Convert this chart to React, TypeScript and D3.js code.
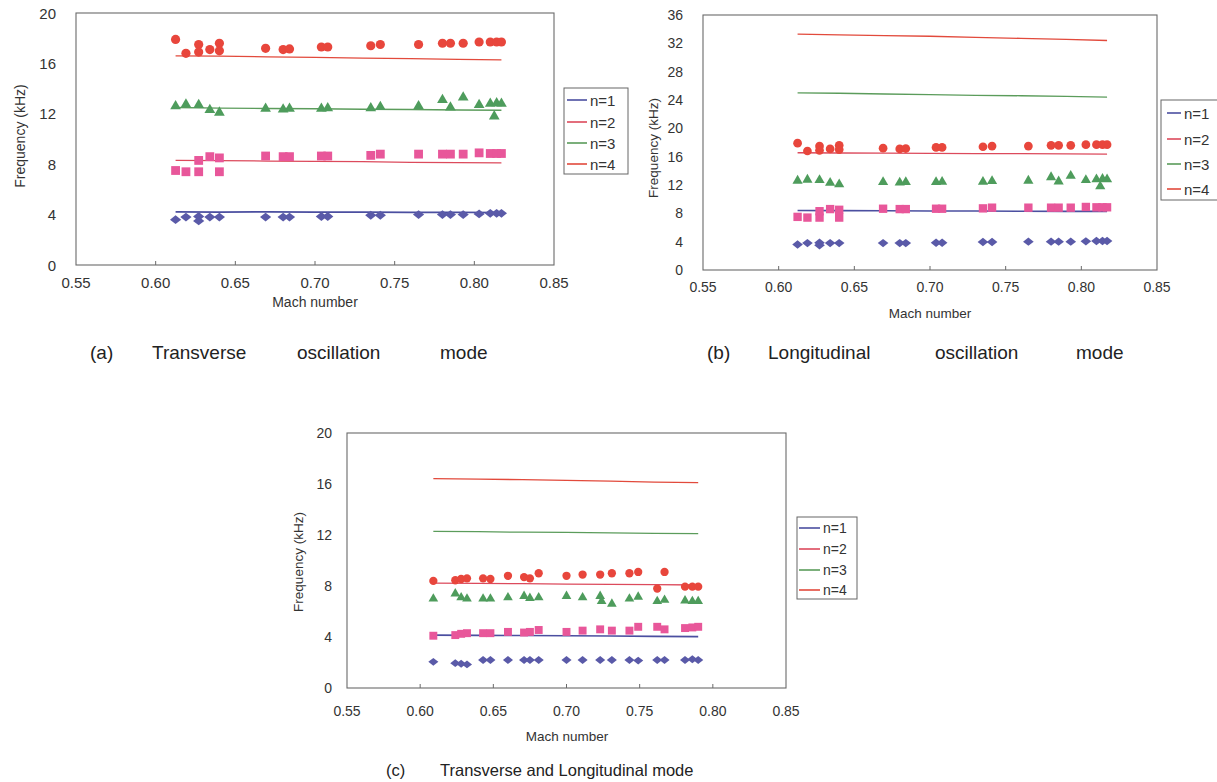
import React from 'react';
import * as d3 from 'd3';

type Pt = [number, number];

// measured peaks, panels (a) and (b) share the same runs: [Mach, kHz]
const measN1: Pt[] = [
  [0.6125, 3.6], [0.619, 3.8], [0.627, 3.85], [0.627, 3.5], [0.634, 3.8], [0.640, 3.8],
  [0.669, 3.8], [0.680, 3.8], [0.684, 3.8], [0.704, 3.85], [0.708, 3.85], [0.735, 3.95],
  [0.741, 3.95], [0.765, 4.0], [0.780, 4.0], [0.785, 4.0], [0.793, 4.0], [0.803, 4.05],
  [0.810, 4.1], [0.814, 4.1], [0.817, 4.1]
];
const measN2: Pt[] = [
  [0.6125, 7.5], [0.619, 7.4], [0.627, 7.4], [0.627, 8.3], [0.634, 8.6], [0.640, 8.5],
  [0.640, 7.4], [0.669, 8.65], [0.680, 8.6], [0.684, 8.6], [0.704, 8.65], [0.708, 8.65],
  [0.735, 8.7], [0.741, 8.8], [0.765, 8.8], [0.780, 8.8], [0.785, 8.8], [0.793, 8.8],
  [0.803, 8.9], [0.810, 8.85], [0.814, 8.85], [0.817, 8.85]
];
const measN3: Pt[] = [
  [0.6125, 12.6], [0.619, 12.75], [0.627, 12.7], [0.634, 12.3], [0.640, 12.1], [0.669, 12.4],
  [0.680, 12.35], [0.684, 12.4], [0.704, 12.4], [0.708, 12.45], [0.735, 12.45], [0.741, 12.55],
  [0.765, 12.6], [0.780, 13.1], [0.785, 12.5], [0.793, 13.3], [0.803, 12.7], [0.810, 12.8],
  [0.8125, 11.8], [0.814, 12.85], [0.817, 12.8]
];
const measN4: Pt[] = [
  [0.6125, 17.9], [0.619, 16.8], [0.627, 17.5], [0.627, 16.9], [0.634, 17.1], [0.640, 17.6],
  [0.640, 17.0], [0.669, 17.2], [0.680, 17.1], [0.684, 17.15], [0.704, 17.3], [0.708, 17.3],
  [0.735, 17.4], [0.741, 17.5], [0.765, 17.5], [0.780, 17.6], [0.785, 17.6], [0.793, 17.6],
  [0.803, 17.7], [0.810, 17.7], [0.814, 17.7], [0.817, 17.7]
];

// measured peaks, panel (c)
const mixN1: Pt[] = [
  [0.609, 2.05], [0.624, 1.95], [0.628, 1.9], [0.632, 1.85], [0.643, 2.2], [0.648, 2.2],
  [0.660, 2.2], [0.671, 2.2], [0.675, 2.2], [0.681, 2.2], [0.700, 2.2], [0.711, 2.2],
  [0.723, 2.2], [0.731, 2.2], [0.743, 2.2], [0.749, 2.15], [0.762, 2.2], [0.767, 2.2],
  [0.781, 2.2], [0.786, 2.25], [0.790, 2.2]
];
const mixN2: Pt[] = [
  [0.609, 4.1], [0.624, 4.15], [0.628, 4.25], [0.632, 4.3], [0.643, 4.3], [0.648, 4.3],
  [0.660, 4.4], [0.671, 4.35], [0.675, 4.4], [0.681, 4.55], [0.700, 4.4], [0.711, 4.5],
  [0.723, 4.6], [0.731, 4.5], [0.743, 4.5], [0.749, 4.8], [0.762, 4.8], [0.767, 4.6],
  [0.781, 4.7], [0.786, 4.75], [0.790, 4.8]
];
const mixN3: Pt[] = [
  [0.609, 7.0], [0.624, 7.4], [0.628, 7.1], [0.632, 7.0], [0.643, 7.0], [0.648, 7.0],
  [0.660, 7.1], [0.671, 7.2], [0.675, 7.05], [0.681, 7.1], [0.700, 7.2], [0.711, 7.1],
  [0.723, 7.2], [0.724, 6.8], [0.731, 6.6], [0.743, 7.0], [0.749, 7.15], [0.762, 6.8],
  [0.767, 6.9], [0.781, 6.85], [0.786, 6.8], [0.790, 6.8]
];
const mixN4: Pt[] = [
  [0.609, 8.4], [0.624, 8.45], [0.628, 8.55], [0.632, 8.6], [0.643, 8.6], [0.648, 8.55],
  [0.660, 8.8], [0.671, 8.7], [0.675, 8.6], [0.681, 9.0], [0.700, 8.8], [0.711, 8.9],
  [0.723, 8.9], [0.731, 9.0], [0.743, 9.0], [0.749, 9.1], [0.762, 7.8], [0.767, 9.1],
  [0.781, 7.95], [0.786, 7.95], [0.790, 7.95]
];

// predicted modes
const thMachAB = [0.6125, 0.64, 0.67, 0.70, 0.73, 0.76, 0.79, 0.817];
const transN1 = [4.22, 4.2, 4.22, 4.2, 4.2, 4.18, 4.18, 4.17];
const transN2 = [8.3, 8.28, 8.25, 8.22, 8.2, 8.15, 8.12, 8.1];
const transN3 = [12.5, 12.45, 12.42, 12.4, 12.36, 12.34, 12.3, 12.28];
const transN4 = [16.6, 16.58, 16.52, 16.48, 16.42, 16.38, 16.32, 16.28];
const longN1 = [8.4, 8.38, 8.36, 8.34, 8.32, 8.3, 8.28, 8.27];
const longN2 = [16.55, 16.52, 16.5, 16.47, 16.44, 16.42, 16.4, 16.37];
const longN3 = [25.0, 24.95, 24.85, 24.75, 24.65, 24.6, 24.5, 24.4];
const longN4 = [33.3, 33.2, 33.1, 33.0, 32.85, 32.7, 32.55, 32.4];

const thMachC = [0.609, 0.64, 0.67, 0.70, 0.73, 0.76, 0.79];
const bothN1 = [4.15, 4.13, 4.12, 4.1, 4.08, 4.05, 4.03];
const bothN2 = [8.22, 8.2, 8.18, 8.15, 8.12, 8.1, 8.08];
const bothN3 = [12.28, 12.26, 12.22, 12.2, 12.16, 12.12, 12.1];
const bothN4 = [16.42, 16.38, 16.34, 16.28, 16.22, 16.15, 16.1];

const xTicks = [0.55, 0.60, 0.65, 0.70, 0.75, 0.80, 0.85];
const legendLabels = ['n=1', 'n=2', 'n=3', 'n=4'];

const FONT = '"Liberation Sans", Arial, sans-serif';
const lineColors = ['#4b4fa0', '#dc4a5c', '#5b9c5b', '#e24a3c'];
const markColors = ['#5a5aa8', '#e8579a', '#4e9c5c', '#e8463c'];

const diamond = 'M0,-4.4L5.6,0L0,4.4L-5.6,0Z';

function Marker({ kind, x, y, s }: { kind: number; x: number; y: number; s: number }) {
  const fill = markColors[kind];
  if (kind === 0) return <path d={diamond} transform={`translate(${x},${y}) scale(${s})`} fill={fill} />;
  if (kind === 1) return <rect x={x - 4.4 * s} y={y - 4.4 * s} width={8.8 * s} height={8.8 * s} fill={fill} />;
  if (kind === 2) {
    const p = d3.symbol().type(d3.symbolTriangle).size(50 * s * s)();
    return <path d={p || ''} transform={`translate(${x},${y})`} fill={fill} />;
  }
  return <circle cx={x} cy={y} r={4.6 * s} fill={fill} />;
}

interface PanelProps {
  left: number; right: number; top: number; bottom: number;
  yMax: number;
  meas: Pt[][];
  thMach: number[];
  th: number[][];
  tickFont: number; yGap: number; xGap: number;
  xTitle: [number, number]; yTitle: [number, number]; titleFont: number;
  legend: { x: number; y: number; w: number; h: number; rows: number[]; lx: [number, number]; font: number };
  markScale: number;
}

function Panel(p: PanelProps) {
  const x = d3.scaleLinear().domain([0.55, 0.85]).range([p.left, p.right]);
  const y = d3.scaleLinear().domain([0, p.yMax]).range([p.bottom, p.top]);
  const yTicks = d3.range(0, p.yMax + 0.1, 4);
  const line = d3.line<number>().x((_, i) => x(p.thMach[i])).y((d) => y(d));

  return (
    <g fontFamily={FONT}>
      <rect x={p.left} y={p.top} width={p.right - p.left} height={p.bottom - p.top}
        fill="none" stroke="#6a6a6a" strokeWidth={1.1} />
      {xTicks.slice(1, -1).map((t) => (
        <line key={t} x1={x(t)} x2={x(t)} y1={p.bottom} y2={p.bottom - 4} stroke="#6a6a6a" />
      ))}
      {xTicks.map((t) => (
        <text key={t} x={x(t)} y={p.bottom + p.xGap} fontSize={p.tickFont} fill="#333"
          textAnchor="middle" dominantBaseline="central">{t.toFixed(2)}</text>
      ))}
      {yTicks.map((t) => (
        <text key={t} x={p.left - p.yGap} y={y(t)} fontSize={p.tickFont} fill="#333"
          textAnchor="end" dominantBaseline="central">{t}</text>
      ))}
      <text x={p.xTitle[0]} y={p.xTitle[1]} fontSize={p.titleFont} fill="#333"
        textAnchor="middle" dominantBaseline="central">Mach number</text>
      <text transform={`translate(${p.yTitle[0]},${p.yTitle[1]}) rotate(-90)`} fontSize={p.titleFont}
        fill="#333" textAnchor="middle" dominantBaseline="central">Frequency (kHz)</text>

      {p.th.map((vals, k) => (
        <path key={k} d={line(vals) || ''} fill="none" stroke={lineColors[k]}
          strokeWidth={k === 0 ? 1.6 : 1.3} />
      ))}
      {p.meas.map((pts, k) => pts.map((d, i) => (
        <Marker key={k + '-' + i} kind={k} x={x(d[0])} y={y(d[1])} s={p.markScale} />
      )))}

      <rect x={p.legend.x} y={p.legend.y} width={p.legend.w} height={p.legend.h}
        fill="#fff" stroke="#666" strokeWidth={1} />
      {legendLabels.map((lab, k) => (
        <g key={lab}>
          <line x1={p.legend.lx[0]} x2={p.legend.lx[1]} y1={p.legend.rows[k]} y2={p.legend.rows[k]}
            stroke={lineColors[k]} strokeWidth={1.6} />
          <text x={p.legend.lx[1] + 3} y={p.legend.rows[k]} fontSize={p.legend.font} fill="#333"
            dominantBaseline="central">{lab}</text>
        </g>
      ))}
    </g>
  );
}

function Caption({ words, y, size }: { words: [string, number][]; y: number; size: number }) {
  return (
    <g fontFamily={FONT} fontSize={size} fill="#222">
      {words.map(([w, x]) => (
        <text key={w + x} x={x} y={y} dominantBaseline="central">{w}</text>
      ))}
    </g>
  );
}

export default function App() {
  return (
    <svg width={1217} height={782} style={{ position: 'absolute', left: 0, top: 0, background: '#fff' }}>
      <rect width={1217} height={782} fill="#fff" />
      <Panel left={76} right={554} top={13} bottom={265} yMax={20}
        meas={[measN1, measN2, measN3, measN4]} thMach={thMachAB}
        th={[transN1, transN2, transN3, transN4]}
        tickFont={15} yGap={20} xGap={17}
        xTitle={[315, 302]} yTitle={[20, 136]} titleFont={14}
        legend={{ x: 564, y: 88, w: 64, h: 86, rows: [100, 122, 143, 164], lx: [567, 587], font: 15 }}
        markScale={1} />
      <Panel left={703} right={1157} top={15} bottom={270} yMax={36}
        meas={[measN1, measN2, measN3, measN4]} thMach={thMachAB}
        th={[longN1, longN2, longN3, longN4]}
        tickFont={14} yGap={20} xGap={17}
        xTitle={[930, 313]} yTitle={[653, 148]} titleFont={13.5}
        legend={{ x: 1161, y: 100, w: 70, h: 100, rows: [113, 139, 164, 189], lx: [1167, 1181], font: 15 }}
        markScale={0.95} />
      <Panel left={347} right={786} top={433} bottom={688} yMax={20}
        meas={[mixN1, mixN2, mixN3, mixN4]} thMach={thMachC}
        th={[bothN1, bothN2, bothN3, bothN4]}
        tickFont={14} yGap={15} xGap={23}
        xTitle={[567, 736]} yTitle={[298, 562]} titleFont={13.5}
        legend={{ x: 797, y: 517, w: 60, h: 82, rows: [528, 549, 570, 590], lx: [799, 820], font: 14 }}
        markScale={0.9} />
      <Caption y={352} size={19} words={[['(a)', 90], ['Transverse', 152], ['oscillation', 297], ['mode', 440]]} />
      <Caption y={352} size={19} words={[['(b)', 707], ['Longitudinal', 768], ['oscillation', 935], ['mode', 1076]]} />
      <Caption y={770} size={16.5} words={[['(c)', 386], ['Transverse and Longitudinal mode', 440]]} />
    </svg>
  );
}
